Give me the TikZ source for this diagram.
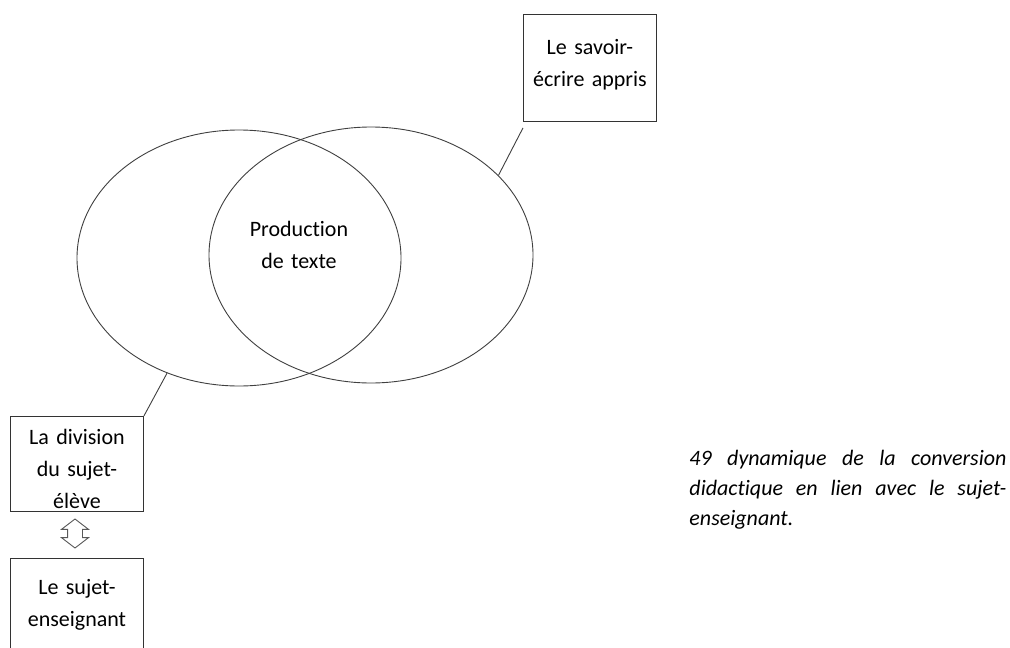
\documentclass[tikz,border=0pt]{standalone}
\usepackage{fontspec}
\setmainfont[Ligatures=NoCommon]{Carlito}
\usetikzlibrary{calc, shapes.geometric, shapes.arrows}

\begin{document}
\begin{tikzpicture}[x=1pt, y=-1pt, line width=0.9pt, draw=black!75,
	txt/.style={font=\fontsize{22}{32}\selectfont},
	tbox/.style={txt, draw=black!80, text width=133pt, align=center, inner sep=0pt, anchor=north west},
	bulle/.style={ellipse, draw=black!75, minimum width=324pt, minimum height=256pt, inner sep=0pt}]

	\clip (0,0) rectangle (1010,648);
	\fill[white] (0,0) rectangle (1010,648);

	% les deux ellipses
	\node[bulle] (gauche) at (239,258) {};
	\node[bulle] (droite) at (371,255) {};
	\node[txt, text width=140pt, align=center, anchor=base] (prod) at (299,236) {Production\\de texte};

	% les cadres
	\node[tbox, text height=40pt, text depth=67pt] (savoir) at (523,14) {Le savoir-\\écrire appris};
	\node[tbox, text height=28pt, text depth=67pt] (division) at (10,416) {La division\\du sujet-\\élève};
	\node[tbox, text height=36pt, text depth=86pt] (enseignant) at (10,558) {Le sujet-\\enseignant};

	\draw[black!75] ([yshift=-6pt]savoir.south west) -- (droite.32);
	\draw[black!75] (division.north east) -- (gauche.238);

	\node[double arrow, draw=black!65, rotate=90, minimum height=29pt, inner sep=7pt,
		double arrow head extend=6pt, double arrow tip angle=105] (fleche) at (75,533.5) {};

	% legende
	\node[font=\fontsize{22}{30}\selectfont\itshape, text width=317pt, align=justify,
		inner sep=0pt, anchor=base west] (legende) at (689,465)
		{49 dynamique de la conversion\linebreak didactique en lien avec le sujet-\linebreak enseignant.};
\end{tikzpicture}
\end{document}
